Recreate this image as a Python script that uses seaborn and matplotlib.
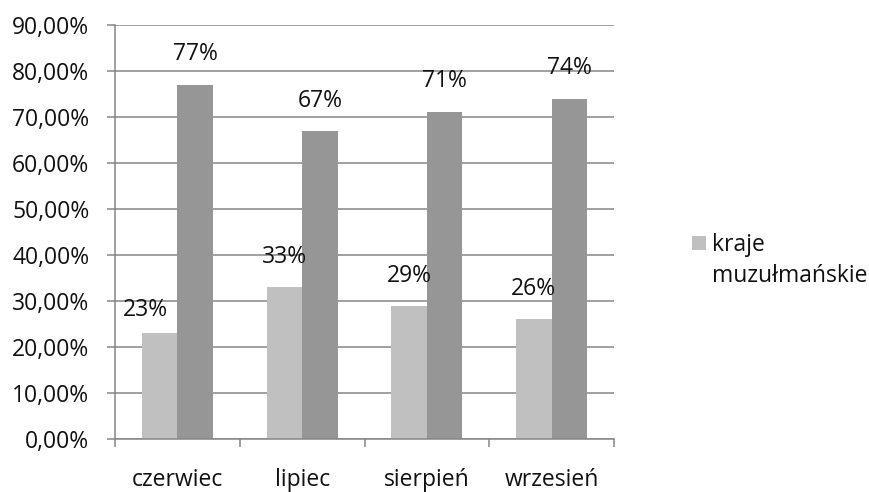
import matplotlib
matplotlib.use("Agg")
import matplotlib.pyplot as plt
import seaborn as sns
import pandas as pd
import numpy as np
from matplotlib.patches import Rectangle
from matplotlib.ticker import FixedLocator, FuncFormatter

months = ["czerwiec", "lipiec", "sierpień", "wrzesień"]
series_names = ["kraje muzułmańskie", "pozostałe"]
muslim = [23, 33, 29, 26]
other = [77, 67, 71, 74]
legend_lines = ["kraje", "muzułmańskie"]
label_gap_px = [[11, 18, 18, 18], [19, 18, 19, 19]]
label_dx_px = [[-14, 0, 0, 0], [0, 0, 0, 0]]

colors = ["#C0C0C0", "#969696"]
axis_color = "#868686"
W, H = 869, 492

sns.set_theme(style="white")
plt.rcParams["font.family"] = ["Open Sans", "DejaVu Sans"]

df = pd.DataFrame({
    "month": months * 2,
    "series": [series_names[0]] * 4 + [series_names[1]] * 4,
    "value": muslim + other,
})

fig = plt.figure(figsize=(W / 100, H / 100), dpi=100)
ax = fig.add_axes([115 / W, 1 - 439 / H, 499 / W, 414 / H])

sns.barplot(data=df, x="month", y="value", hue="series", order=months,
            hue_order=series_names, palette=colors, width=0.57,
            saturation=1, ax=ax, legend=False, linewidth=0)

ax.set_ylim(0, 90)
ax.set_xlim(-0.5, 3.5)
ax.set_yticks(np.arange(0, 91, 10))
ax.yaxis.set_major_formatter(FuncFormatter(lambda v, p: f"{v:.2f}".replace(".", ",") + "%"))
ax.grid(axis="y", color=axis_color, linewidth=1.1)
ax.set_axisbelow(True)
for s in ["top", "right"]:
    ax.spines[s].set_visible(False)
for s in ["left", "bottom"]:
    ax.spines[s].set_color(axis_color)
    ax.spines[s].set_linewidth(1.1)
ax.set_xlabel("")
ax.set_ylabel("")

ax.tick_params(axis="y", which="major", left=True, length=5.5, width=1.1,
               color=axis_color, pad=13, labelsize=16.5, labelcolor="#111111")
ax.tick_params(axis="x", which="major", bottom=False, length=0, pad=21,
               labelsize=16.5, labelcolor="#111111")
ax.xaxis.set_minor_locator(FixedLocator(np.arange(-0.5, 3.6, 1.0)))
ax.tick_params(axis="x", which="minor", bottom=True, length=5.5, width=1.1,
               color=axis_color)

# value labels
for i, cont in enumerate(ax.containers):
    vals = [muslim, other][i]
    for j, bar in enumerate(cont):
        ax.annotate(f"{vals[j]}%", (bar.get_x() + bar.get_width() / 2, bar.get_height()),
                    xytext=(label_dx_px[i][j] * 72 / 100, label_gap_px[i][j] * 72 / 100),
                    textcoords="offset points",
                    ha="center", va="bottom", fontsize=16.5, color="#111111")

# legend (single entry, two-line label)
fig.patches.append(Rectangle((692 / W, 1 - 250 / H), 14 / W, 14 / H,
                             transform=fig.transFigure, facecolor=colors[0],
                             edgecolor="none"))
fig.text(712 / W, 1 - 251 / H, legend_lines[0], ha="left", va="baseline",
         fontsize=16.5, color="#111111")
fig.text(712 / W, 1 - 282 / H, legend_lines[1], ha="left", va="baseline",
         fontsize=16.5, color="#111111")

fig.savefig("out.png", dpi=100)
